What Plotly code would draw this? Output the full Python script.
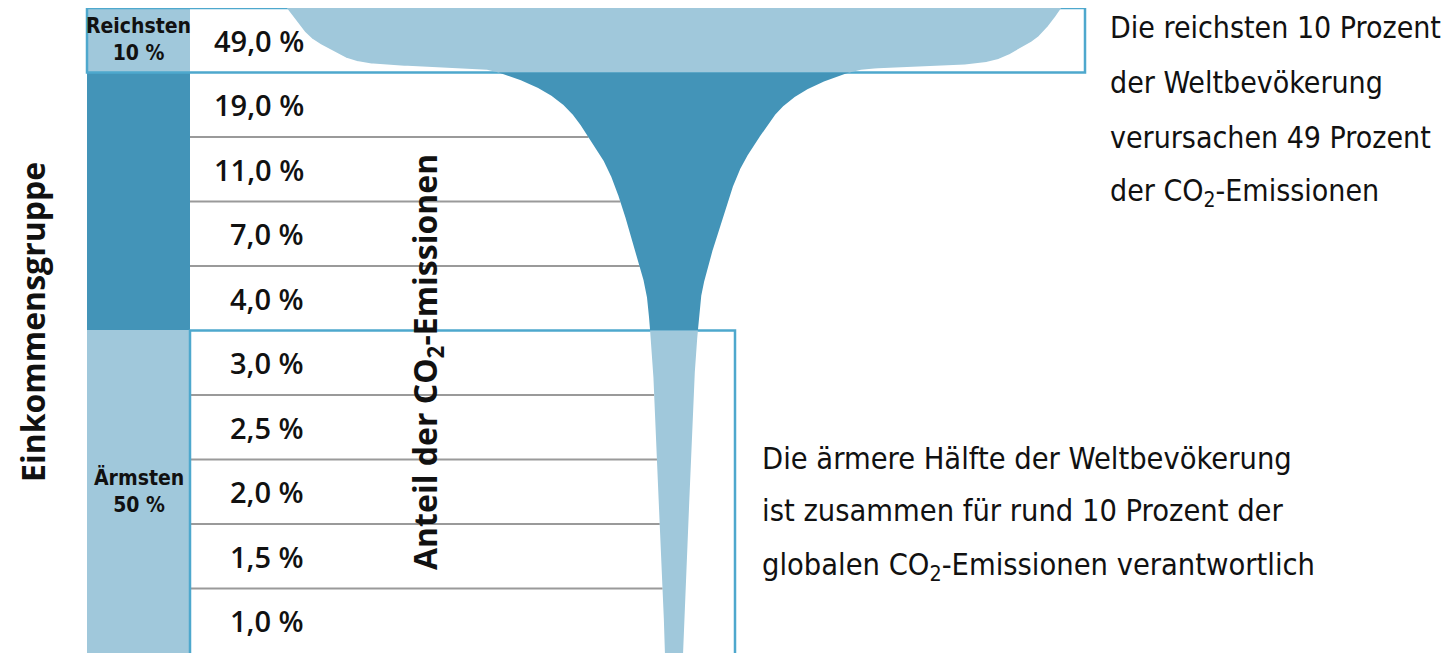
import numpy as np
import plotly.graph_objects as go

# ---------------- data ----------------
shares = [49.0, 19.0, 11.0, 7.0, 4.0, 3.0, 2.5, 2.0, 1.5, 1.0]   # share of CO2 emissions per decile (rich -> poor)
decile_group = ["top", "mid", "mid", "mid", "mid", "low", "low", "low", "low", "low"]
group_labels = {"top": "Reichsten<br>10 %", "low": "Ärmsten<br>50 %"}
axis_title_left = "Einkommensgruppe"
axis_title_mid = "Anteil der CO<sub>2</sub>-Emissionen"
note_top = ["Die reichsten 10 Prozent", "der Weltbevökerung", "verursachen 49 Prozent",
            "der CO<sub>2</sub>-Emissionen"]
note_bottom = ["Die ärmere Hälfte der Weltbevökerung", "ist zusammen für rund 10 Prozent der",
               "globalen CO<sub>2</sub>-Emissionen verantwortlich"]

# ---------------- style ----------------
LIGHT = "#a0c8db"
DARK = "#4394b8"
OUTLINE = "#4ea8cd"
GRID = "#9a9a9a"
TXT = "#111111"
COND = "DejaVu Sans Condensed, Liberation Sans Narrow, Arial Narrow, sans-serif"
BOLD = "Open Sans, Noto Sans, sans-serif"
PAGE_W, PAGE_H = 1450, 653
BODY = 8                      # default page margin of the html body
W, H = PAGE_W - BODY, PAGE_H - BODY
TOP_PX = 8
ROW_PX = (PAGE_H - TOP_PX) / 10
X0 = 674            # centre of the glass (page px)
BAND_L, BAND_R = 87, 190
n = len(shares)

# shape of the bowl of the glass (fraction of top width at relative row depth)
BOWL = [(0.0, 1.0), (0.28, 0.966), (0.48, 0.933), (0.635, 0.889), (0.774, 0.845),
        (0.851, 0.793), (0.882, 0.734), (0.913, 0.63), (0.944, 0.50)]


def glass_profile(v):
    """Anchor points (row position, half width in px) derived from the shares."""
    a, b = 5.6, 4.5
    top = 7.9 * v[0]
    t, h = [], []
    for tt, f in BOWL:
        t.append(tt); h.append(top * f)
    for i in range(1, len(v)):
        t.append(i); h.append(a * np.sqrt(v[i - 1] * v[i]) + b)
        t.append(i + 0.5); h.append(a * v[i] + b)
    t.append(len(v)); h.append(a * v[-1] * np.sqrt(v[-1] / v[-2]) + b)
    return np.array(t), np.array(h)


def pchip(x, y, xn):
    hh = np.diff(x)
    d = np.diff(y) / hh
    m = np.zeros_like(y)
    for k in range(1, len(x) - 1):
        if d[k - 1] * d[k] <= 0:
            m[k] = 0
        else:
            w1 = 2 * hh[k] + hh[k - 1]
            w2 = hh[k] + 2 * hh[k - 1]
            m[k] = (w1 + w2) / (w1 / d[k - 1] + w2 / d[k])
    m[0], m[-1] = d[0], d[-1]
    idx = np.clip(np.searchsorted(x, xn) - 1, 0, len(x) - 2)
    x0, x1 = x[idx], x[idx + 1]
    y0, y1 = y[idx], y[idx + 1]
    m0, m1 = m[idx], m[idx + 1]
    hk = x1 - x0
    s = (xn - x0) / hk
    h00 = 2 * s**3 - 3 * s**2 + 1
    h10 = s**3 - 2 * s**2 + s
    h01 = -2 * s**3 + 3 * s**2
    h11 = s**3 - s**2
    return h00 * y0 + h10 * hk * m0 + h01 * y1 + h11 * hk * m1


def t_of(px):
    """page pixel (vertical) -> row coordinate"""
    return (px - TOP_PX) / ROW_PX


at, ah = glass_profile(shares)
half = lambda tt: pchip(at, ah, np.asarray(tt, dtype=float))

fig = go.Figure()

first_low = decile_group.index("low")
first_mid = decile_group.index("mid")
segments = [(0, first_mid, LIGHT), (first_mid, first_low, DARK), (first_low, n, LIGHT)]
for a, b, col in segments:
    tt = np.linspace(a, b, 400)
    hw = half(tt)
    xs = np.concatenate([X0 - hw, (X0 + hw)[::-1]])
    ys = np.concatenate([tt, tt[::-1]])
    fig.add_trace(go.Scatter(x=xs, y=ys, fill="toself", fillcolor=col, mode="lines",
                             line=dict(width=0, color=col), hoverinfo="skip", showlegend=False))

shapes = []
# income band column: one rectangle per contiguous group
runs = []
for i, g in enumerate(decile_group):
    if runs and runs[-1][0] == g:
        runs[-1][2] = i + 1
    else:
        runs.append([g, i, i + 1])
for g, a, b in runs:
    shapes.append(dict(type="rect", xref="x", yref="y", x0=BAND_L, x1=BAND_R, y0=a, y1=b,
                       fillcolor=DARK if g == "mid" else LIGHT, line=dict(width=0), layer="below"))
for k in range(1, n):
    if k in (first_mid, first_low):
        continue
    shapes.append(dict(type="line", xref="x", yref="y", x0=BAND_R, x1=float(X0 - half(k)),
                       y0=k, y1=k, line=dict(color=GRID, width=2), layer="below"))
shapes.append(dict(type="rect", xref="x", yref="y", x0=BAND_L, x1=1085, y0=0, y1=first_mid,
                   line=dict(color=OUTLINE, width=2.5), fillcolor="rgba(0,0,0,0)", layer="below"))
shapes.append(dict(type="rect", xref="x", yref="y", x0=BAND_R, x1=735, y0=first_low, y1=n + 0.5,
                   line=dict(color=OUTLINE, width=2.5), fillcolor="rgba(0,0,0,0)", layer="below"))

ann = []
for i, v in enumerate(shares):
    lab = f"{v:.1f}".replace(".", ",") + " %"
    ann.append(dict(x=306, y=i + 0.5, xref="x", yref="y", text=lab, showarrow=False,
                    xanchor="right", yanchor="middle",
                    font=dict(family=BOLD, size=29, color=TXT, weight=600)))
for g, lab in group_labels.items():
    yc = t_of(39) if g == "top" else t_of(491)
    ann.append(dict(x=(BAND_L + BAND_R) / 2, y=yc, xref="x", yref="y", text=lab, showarrow=False,
                    xanchor="center", yanchor="middle",
                    font=dict(family=COND, size=21, color=TXT, weight="bold")))
ann.append(dict(x=32, y=t_of(322), xref="x", yref="y", text=axis_title_left, showarrow=False, textangle=-90,
                xanchor="center", yanchor="middle", font=dict(family=BOLD, size=32, color=TXT, weight="bold")))
ann.append(dict(x=427, y=t_of(362), xref="x", yref="y", text=axis_title_mid, showarrow=False, textangle=-90,
                xanchor="center", yanchor="middle", font=dict(family=BOLD, size=32, color=TXT, weight="bold")))
for j, line in enumerate(note_top):
    yy = t_of([27, 82, 137, 192][j])
    ann.append(dict(x=1108, y=yy, xref="x", yref="y", text=line, showarrow=False,
                    xanchor="left", yanchor="middle", font=dict(family=COND, size=30, color=TXT)))
for j, line in enumerate(note_bottom):
    yy = t_of([458, 510, 566][j])
    ann.append(dict(x=760, y=yy, xref="x", yref="y", text=line, showarrow=False,
                    xanchor="left", yanchor="middle", font=dict(family=COND, size=30.5, color=TXT)))

fig.update_layout(
    width=W, height=H, margin=dict(l=0, r=0, t=0, b=0),
    paper_bgcolor="white", plot_bgcolor="white",
    xaxis=dict(range=[BODY, PAGE_W], visible=False, fixedrange=True),
    yaxis=dict(range=[t_of(PAGE_H), t_of(BODY)], visible=False, fixedrange=True),
    shapes=shapes, annotations=ann, showlegend=False,
)
fig.write_html("out.html", config={"displayModeBar": False})
